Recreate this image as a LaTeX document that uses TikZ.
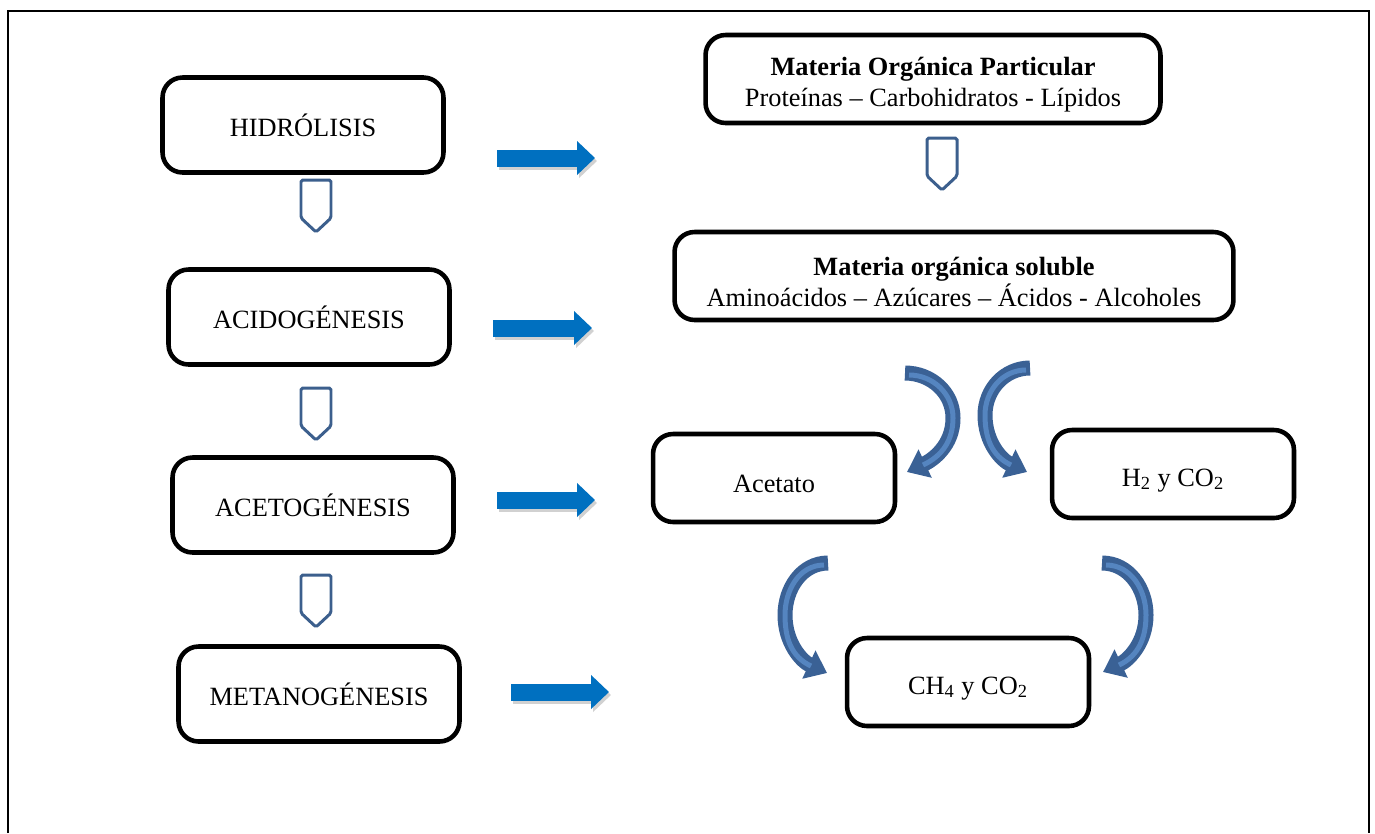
\documentclass[tikz,border=0pt]{standalone}
\usepackage{fontspec}
\setmainfont{Liberation Serif}
\usepackage{tikz}
\usetikzlibrary{arrows.meta, calc}
\usepackage{xcolor}
\definecolor{BlockBlue}{HTML}{0070C0}
\definecolor{HollowBlue}{HTML}{3C5F8D}
\definecolor{CurlDark}{HTML}{3A6195}
\definecolor{CurlLight}{HTML}{5585C0}
\newcommand{\toplift}{\rule{0pt}{0.6cm}}
\tikzset{
  stagebox/.style={draw=black, line width=2.6pt, rounded corners=0.4cm, align=center,
    minimum width=5.62cm, minimum height=1.9cm, inner sep=4pt, font=\fontsize{15}{17}\selectfont},
  matbox/.style={draw=black, line width=2.6pt, rounded corners=0.4cm, align=center,
    minimum height=1.76cm, inner sep=4pt, font=\fontsize{15}{17.5}\selectfont},
  prodbox/.style={matbox, minimum width=4.84cm},
  flowshadow/.style={-{Triangle[length=0.36cm, width=0.66cm]}, line width=0.34cm, draw=black!18},
  flow/.style={-{Triangle[length=0.36cm, width=0.66cm]}, line width=0.34cm, draw=BlockBlue},
  hollow/.style={draw=HollowBlue, line width=1.7pt, rounded corners=1pt},
  curl/.style={-{Triangle[length=0.4cm, width=0.6cm]}, line width=0.3cm, draw=CurlDark},
  curlhi/.style={line width=0.1cm, draw=CurlLight},
}

\begin{document}
\begin{tikzpicture}[x=0.02cm, y=0.02cm]
    \useasboundingbox (0,0) rectangle (1375,-833);
    \draw[line width=1.1pt] (8,-833) |- (1369,-11) -- (1369,-833);
    % stages
    \node[stagebox] (hid) at (303,-125) {HIDRÓLISIS};
    \node[stagebox] (acid) at (309,-317) {ACIDOGÉNESIS};
    \node[stagebox] (acet) at (313,-505) {ACETOGÉNESIS};
    \node[stagebox] (meta) at (319,-694) {METANOGÉNESIS};
    % matter and products
    \node[matbox, minimum width=9.1cm] (mop) at (933,-79) {\toplift\textbf{Materia Orgánica Particular}\\Proteínas – Carbohidratos - Lípidos};
    \node[matbox, minimum width=11.18cm] (mos) at (954,-276) {\toplift\textbf{Materia orgánica soluble}\\Aminoácidos – Azúcares – Ácidos - Alcoholes};
    \node[prodbox] (acetato) at (774,-478) {\toplift Acetato};
    \node[prodbox] (htwo) at (1173,-474) {\toplift H\textsubscript{2} y CO\textsubscript{2}};
    \node[prodbox] (chfour) at (968,-682) {\toplift CH\textsubscript{4} y CO\textsubscript{2}};
    % block arrows
    \coordinate (fa1) at (497,-158); \coordinate (fb1) at (595,-158);
    \coordinate (fa2) at (493,-328); \coordinate (fb2) at (592,-328);
    \coordinate (fa3) at (497,-500); \coordinate (fb3) at (595,-500);
    \coordinate (fa4) at (511,-692); \coordinate (fb4) at (609,-692);
    \foreach \i in {1,2,3,4} {
      \draw[flowshadow] ($(fa\i)+(2,-3)$) -- ($(fb\i)+(2,-3)$);
      \draw[flow] (fa\i) -- (fb\i);
    }
    % hollow arrows
    \coordinate (d1) at (301,-180);
    \coordinate (d2) at (301,-388);
    \coordinate (d3) at (301,-575);
    \coordinate (d4) at (927,-138);
    \foreach \i in {1,2,3,4}
      \draw[hollow] (d\i) -- ++(0,-38) -- ++(15,-14) -- ++(15,14) -- ++(0,38) -- cycle;
    % curved arrows
    \coordinate (ca1) at (905,-373); \coordinate (cm1) at (953,-418); \coordinate (cb1) at (907,-472);
    \coordinate (ca2) at (1030,-368); \coordinate (cm2) at (985,-415); \coordinate (cb2) at (1027,-472);
    \coordinate (ca3) at (828,-563); \coordinate (cm3) at (785,-615); \coordinate (cb3) at (827,-673);
    \coordinate (ca4) at (1102,-563); \coordinate (cm4) at (1146,-615); \coordinate (cb4) at (1103,-672);
    \draw[curl] (ca1) to[out=0, in=90] (cm1) to[out=-90, in=25] (cb1);
    \draw[curl] (ca2) to[out=180, in=90] (cm2) to[out=-90, in=155] (cb2);
    \draw[curl] (ca3) to[out=180, in=90] (cm3) to[out=-90, in=155] (cb3);
    \draw[curl] (ca4) to[out=0, in=90] (cm4) to[out=-90, in=25] (cb4);
    \draw[curlhi] ($(ca1)+(4,-2)$) to[out=0, in=90] (cm1) to[out=-90, in=25] ($(cb1)+(16,7)$);
    \draw[curlhi] ($(ca2)+(-4,-2)$) to[out=180, in=90] (cm2) to[out=-90, in=155] ($(cb2)+(-16,7)$);
    \draw[curlhi] ($(ca3)+(-4,-2)$) to[out=180, in=90] (cm3) to[out=-90, in=155] ($(cb3)+(-16,7)$);
    \draw[curlhi] ($(ca4)+(4,-2)$) to[out=0, in=90] (cm4) to[out=-90, in=25] ($(cb4)+(16,7)$);
  \end{tikzpicture}
\end{document}
